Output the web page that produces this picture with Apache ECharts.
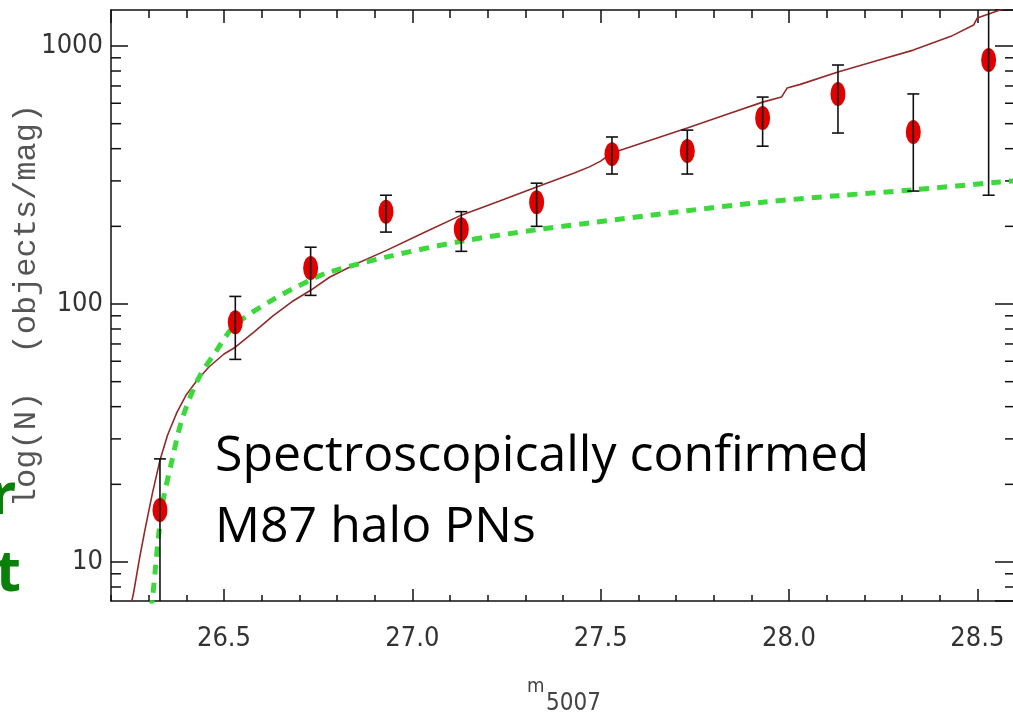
<!DOCTYPE html>
<html>
<head>
<meta charset="utf-8">
<script src="https://cdn.jsdelivr.net/npm/echarts@6/dist/echarts.min.js"></script>
<style>
  html, body { margin: 0; padding: 0; background: #ffffff; }
  #chart { width: 1013px; height: 716px; }
</style>
</head>
<body>
<div id="chart"></div>
<script>
// ---- data ----
const xTickLabels = ['26.5', '27.0', '27.5', '28.0', '28.5'];
const yTickLabels = ['10', '100', '1000'];
const yMinorTicks = [8, 9, 20, 30, 40, 50, 60, 70, 80, 90, 200, 300, 400, 500, 600, 700, 800, 900];

// observed counts (red dots) with error bars
const pointMag  = [26.33, 26.53, 26.73, 26.93, 27.13, 27.33, 27.53, 27.73, 27.93, 28.13, 28.33, 28.53];
const pointN    = [15.9, 85, 138, 228, 195, 248, 381, 392, 526, 652, 464, 883];
const errLow    = [3, 61, 108, 190, 160, 200, 319, 319, 409, 460, 274, 264];
const errHigh   = [25.1, 107, 166, 264, 228, 294, 444, 472, 634, 844, 652, 2500];

// solid dark-red fit curve
const fitMag = [26.25, 26.26, 26.275, 26.29, 26.31, 26.33, 26.35, 26.375, 26.40, 26.43, 26.46, 26.50, 26.53, 26.58, 26.63, 26.68, 26.73, 26.78, 26.85, 26.93, 27.03, 27.13, 27.23, 27.33, 27.43, 27.47, 27.5, 27.53, 27.63, 27.73, 27.83, 27.93, 27.98, 27.995, 28.03, 28.13, 28.23, 28.33, 28.43, 28.49, 28.50, 28.56, 28.6];
const fitN   = [6.5, 7.6, 10.2, 13.3, 18.5, 24.8, 31, 38, 44.5, 51, 57, 64, 68, 78, 90, 102, 113, 127, 143, 161, 189, 221, 250, 284, 322, 340, 358, 385, 430, 481, 540, 606, 634, 687, 710, 793, 875, 964, 1090, 1206, 1285, 1380, 1440];

// green dashed curve
const dashMag = [26.305, 26.31, 26.335, 26.362, 26.388, 26.43, 26.48, 26.53, 26.63, 26.73, 26.78, 26.93, 27.13, 27.33, 27.47, 27.73, 27.93, 28.13, 28.33, 28.56, 28.6];
const dashN   = [6.5, 7.2, 16.2, 24.8, 35.5, 50.7, 66, 83, 104, 124, 133, 152, 175, 194, 206, 230, 248, 263, 277, 297, 300];

const xMin = 26.2, xMax = 28.6, yMin = 7.06, yMax = 1379;

const tickFont = 'DejaVu Sans Condensed, Liberation Sans Narrow, sans-serif';

const chart = echarts.init(document.getElementById('chart'), null, { renderer: 'canvas' });

const xAxisBase = {
  type: 'value', min: xMin, max: xMax,
  splitLine: { show: false }
};

const option = {
  backgroundColor: '#ffffff',
  animation: false,
  grid: { left: 111, top: 10, right: -2, bottom: 115, containLabel: false, outerBoundsMode: 'none' },
  xAxis: [
    Object.assign({}, xAxisBase, {
      position: 'bottom', splitNumber: 5,
      axisLine: { show: true, lineStyle: { color: '#111', width: 1.5 } },
      axisTick: { show: true, inside: true, length: 12, lineStyle: { color: '#111', width: 1.5 } },
      axisLabel: {
        show: true, showMinLabel: false, showMaxLabel: false, margin: 24,
        fontFamily: tickFont, fontSize: 27, fontWeight: 'lighter', color: '#333',
        formatter: function (v) {
          const s = v.toFixed(1);
          return xTickLabels.indexOf(s) >= 0 ? s : '';
        }
      }
    }),
    Object.assign({}, xAxisBase, {
      position: 'bottom', interval: 0.1,
      axisLine: { show: false },
      axisTick: { show: true, inside: true, length: 6, lineStyle: { color: '#111', width: 1.5 } },
      axisLabel: { show: false }
    }),
    Object.assign({}, xAxisBase, {
      position: 'top', splitNumber: 5,
      axisLine: { show: true, lineStyle: { color: '#111', width: 1.5 } },
      axisTick: { show: true, inside: true, length: 13, lineStyle: { color: '#111', width: 1.5 } },
      axisLabel: { show: false }
    }),
    Object.assign({}, xAxisBase, {
      position: 'top', interval: 0.1,
      axisLine: { show: false },
      axisTick: { show: true, inside: true, length: 8, lineStyle: { color: '#111', width: 1.5 } },
      axisLabel: { show: false }
    })
  ],
  yAxis: [
    {
      type: 'log', logBase: 10, min: yMin, max: yMax, position: 'left',
      name: 'log(N)  (objects/mag)', nameLocation: 'middle', nameRotate: 90, nameGap: 68,
      nameMoveOverlap: false,
      nameTextStyle: { fontFamily: 'Liberation Mono, DejaVu Sans Mono, monospace', fontSize: 32, color: '#555' },
      splitLine: { show: false },
      axisLine: { show: true, lineStyle: { color: '#111', width: 1.5 } },
      axisTick: { show: true, inside: true, length: 17, lineStyle: { color: '#111', width: 1.5 } },
      axisLabel: {
        show: true, showMinLabel: false, showMaxLabel: false, margin: 8,
        fontFamily: tickFont, fontSize: 27, fontWeight: 'lighter', color: '#333',
        formatter: function (v) {
          const s = String(Math.round(v));
          return yTickLabels.indexOf(s) >= 0 ? s : '';
        }
      }
    },
    {
      type: 'log', logBase: 10, min: yMin, max: yMax, position: 'right',
      splitLine: { show: false },
      axisLine: { show: true, lineStyle: { color: '#111', width: 1.5 } },
      axisTick: { show: true, inside: true, length: 20, lineStyle: { color: '#111', width: 1.5 } },
      axisLabel: { show: false }
    }
  ],
  series: [
    {
      type: 'custom', name: 'yMinorTicks', xAxisIndex: 0, yAxisIndex: 0, silent: true,
      data: yMinorTicks.map(function (v) { return [xMin, v]; }),
      encode: { x: 0, y: 1 },
      renderItem: function (params, api) {
        const cs = params.coordSys;
        const y = api.coord([api.value(0), api.value(1)])[1];
        const st = { stroke: '#111', lineWidth: 1.5 };
        return {
          type: 'group', children: [
            { type: 'line', shape: { x1: cs.x, y1: y, x2: cs.x + 10, y2: y }, style: st },
            { type: 'line', shape: { x1: cs.x + cs.width, y1: y, x2: cs.x + cs.width - 10, y2: y }, style: st }
          ]
        };
      }
    },
    {
      type: 'line', name: 'fit', xAxisIndex: 0, yAxisIndex: 0,
      data: fitMag.map(function (m, i) { return [m, fitN[i]]; }),
      showSymbol: false, smooth: false, clip: true,
      lineStyle: { color: '#922a2a', width: 1.6 },
      z: 2
    },
    {
      type: 'line', name: 'dashed', xAxisIndex: 0, yAxisIndex: 0,
      data: dashMag.map(function (m, i) { return [m, dashN[i]]; }),
      showSymbol: false, smooth: 0.3, clip: true,
      lineStyle: { color: '#3cd83c', width: 5, type: [10, 8], cap: 'butt' },
      z: 2
    },
    {
      type: 'scatter', name: 'PNs', xAxisIndex: 0, yAxisIndex: 0,
      data: pointMag.map(function (m, i) { return [m, pointN[i]]; }),
      symbol: 'circle', symbolSize: [15, 24],
      itemStyle: { color: '#e00000', opacity: 1 },
      z: 3
    },
    {
      type: 'custom', name: 'errors', xAxisIndex: 0, yAxisIndex: 0, clip: true,
      data: pointMag.map(function (m, i) { return [m, errLow[i], errHigh[i]]; }),
      encode: { x: 0, y: [1, 2] },
      renderItem: function (params, api) {
        const lo = api.coord([api.value(0), api.value(1)]);
        const hi = api.coord([api.value(0), api.value(2)]);
        const h = 6;
        const st = { stroke: '#111', lineWidth: 1.6 };
        return {
          type: 'group', children: [
            { type: 'line', shape: { x1: lo[0], y1: lo[1], x2: hi[0], y2: hi[1] }, style: st },
            { type: 'line', shape: { x1: lo[0] - h, y1: lo[1], x2: lo[0] + h, y2: lo[1] }, style: st },
            { type: 'line', shape: { x1: hi[0] - h, y1: hi[1], x2: hi[0] + h, y2: hi[1] }, style: st }
          ]
        };
      },
      z: 4
    }
  ],
  graphic: [
    {
      type: 'text', left: 215, top: 421, z: 10,
      style: {
        text: 'Spectroscopically confirmed\nM87 halo PNs',
        fontFamily: 'Open Sans, Noto Sans, sans-serif', fontSize: 50, lineHeight: 71,
        fill: '#000'
      }
    },
    {
      type: 'text', x: 16, y: 468, z: 10,
      style: { text: 'r', align: 'right', verticalAlign: 'top', fontFamily: 'Noto Sans, sans-serif', fontWeight: 'bold', fontSize: 58, fill: '#0a800a' }
    },
    {
      type: 'text', x: 21, y: 545, z: 10,
      style: { text: 't', align: 'right', verticalAlign: 'top', fontFamily: 'Noto Sans, sans-serif', fontWeight: 'bold', fontSize: 58, fill: '#0a800a' }
    },
    {
      type: 'text', x: 527, y: 677, z: 10,
      style: { text: 'm', fontFamily: tickFont, fontSize: 20, fill: '#444' }
    },
    {
      type: 'text', x: 546, y: 692, z: 10,
      style: { text: '5007', fontFamily: tickFont, fontSize: 24, fill: '#444' }
    }
  ]
};

chart.setOption(option);
</script>
</body>
</html>
